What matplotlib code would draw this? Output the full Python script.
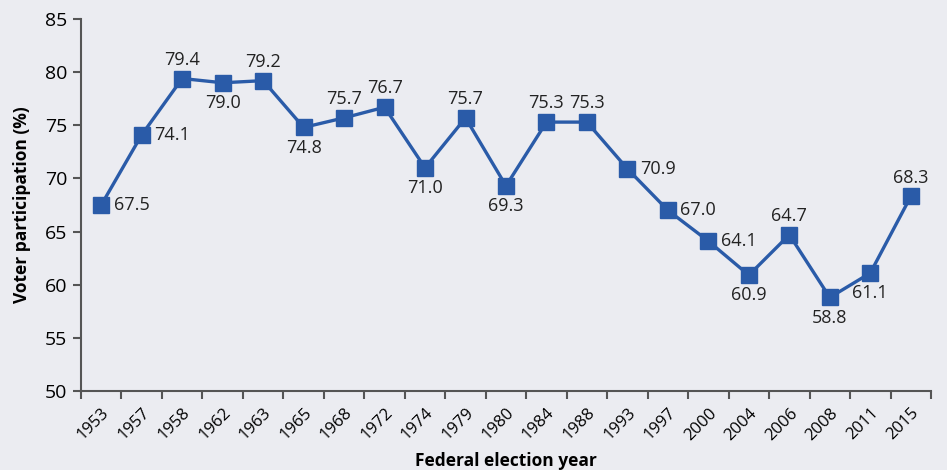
import matplotlib.pyplot as plt
import numpy as np

plt.rcParams['font.family'] = ['Open Sans', 'DejaVu Sans']

years = ['1953', '1957', '1958', '1962', '1963', '1965', '1968', '1972', '1974', '1979',
         '1980', '1984', '1988', '1993', '1997', '2000', '2004', '2006', '2008', '2011', '2015']
turnout = [67.5, 74.1, 79.4, 79.0, 79.2, 74.8, 75.7, 76.7, 71.0, 75.7,
           69.3, 75.3, 75.3, 70.9, 67.0, 64.1, 60.9, 64.7, 58.8, 61.1, 68.3]
# where each value label sits: r = right, a = above, b = below
label_pos = ['r', 'r', 'a', 'b', 'a', 'b', 'a', 'a', 'b', 'a',
             'b', 'a', 'a', 'r', 'r', 'r', 'b', 'a', 'b', 'b', 'a']

bg = '#EBECF1'
blue = '#2A5BA8'
spine = '#555555'

fig = plt.figure(figsize=(9.47, 4.70), dpi=100, facecolor=bg)
ax = fig.add_axes([81/947, 1 - 391/470, 850/947, 372/470], facecolor=bg)

x = np.arange(len(years))
ax.plot(x, turnout, color=blue, lw=2.4, marker='s', ms=11, mfc=blue, mec=blue)

for xi, v, p in zip(x, turnout, label_pos):
    s = f'{v:.1f}'
    if p == 'r':
        ax.annotate(s, (xi, v), xytext=(9, 0), textcoords='offset points',
                    ha='left', va='center', fontsize=13, color='#222222')
    elif p == 'a':
        ax.annotate(s, (xi, v), xytext=(0, 7), textcoords='offset points',
                    ha='center', va='bottom', fontsize=13, color='#222222')
    else:
        ax.annotate(s, (xi, v), xytext=(0, -8), textcoords='offset points',
                    ha='center', va='top', fontsize=13, color='#222222')

ax.set_xlim(-0.5, len(years) - 0.5)
ax.set_ylim(50, 85)
ax.set_yticks(np.arange(50, 86, 5))
ax.set_xticks(x)
ax.set_xticklabels(years, rotation=45, ha='right', rotation_mode='anchor', fontsize=12)
ax.set_xticks(np.arange(-0.5, len(years)), minor=True)
ax.tick_params(axis='x', which='major', length=0, pad=10)
ax.tick_params(axis='x', which='minor', length=6, width=1.5, color=spine, direction='out')
ax.tick_params(axis='y', length=6, width=1.5, color=spine, labelsize=14, pad=4)

for side in ['top', 'right']:
    ax.spines[side].set_visible(False)
for side in ['left', 'bottom']:
    ax.spines[side].set_color(spine)
    ax.spines[side].set_linewidth(1.5)

ax.set_xlabel('Federal election year', fontsize=12.5, fontweight='bold', labelpad=6)
ax.set_ylabel('Voter participation (%)', fontsize=12.5, fontweight='bold', labelpad=10)

fig.savefig('out.png', dpi=100, facecolor=bg)
